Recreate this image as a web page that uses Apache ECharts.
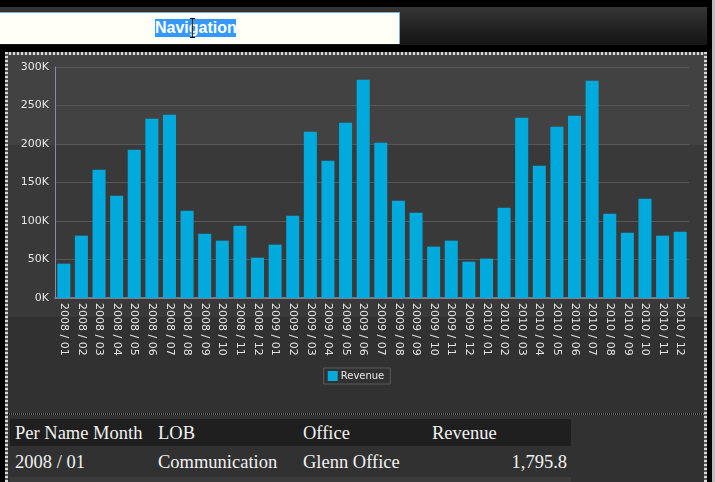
<!DOCTYPE html>
<html>
<head>
<meta charset="utf-8">
<script src="https://cdn.jsdelivr.net/npm/echarts/dist/echarts.min.js"></script>
<style>
  html, body { margin:0; padding:0; }
  body { width:715px; height:482px; background:#000; position:relative; overflow:hidden; }
  .abs { position:absolute; }
  #strip { left:0; top:7px; width:707px; height:38px; background:linear-gradient(to bottom,#353535 0,#2c2c2c 30%,#202020 60%,#151515 100%); }
  #nav { left:0; top:12px; width:399px; height:31px; background:#fffff5; border-top:1px solid #7ab0d8; border-right:1px solid #7ab0d8; }
  #navtext { left:155px; top:19px; width:81px; height:18px; background:#3399ff; color:#fff; font:bold 16px "Liberation Sans", Arial, sans-serif; line-height:18px; text-align:center; }
  #ibeam { left:190px; top:18px; width:5px; height:20px; }
  #panelbg { left:8px; top:54px; width:696px; height:428px;
    background:linear-gradient(to bottom,#424242 0,#424242 91px,#393939 91px,#393939 263px,#313131 263px,#313131 100%); }
  .dotH { height:3px; background:repeating-linear-gradient(90deg,#d8d8d8 0 2px,#5a5a5a 2px 4px); }
  .dotV { width:3px; background:repeating-linear-gradient(180deg,#d8d8d8 0 2px,#5a5a5a 2px 4px); }
  #sep { left:8px; top:413px; width:696px; height:2px; background:repeating-linear-gradient(90deg,#0c0c0c 0 1px,#6a6a6a 1px 2px); }
  #below { left:8px; top:415px; width:696px; height:67px; background:#313131; }
  #thead { left:10px; top:419px; width:561px; height:27px; background:#1f1f1f; }
  #lastrow { left:10px; top:477px; width:561px; height:5px; background:#3b3b3b; }
  .cell { font-family:"Liberation Serif","Times New Roman",serif; font-size:18.5px; color:#f2f2f2; white-space:nowrap; line-height:20px; }
  #chart { left:8px; top:54px; width:696px; height:359px; }
  #rgrey { left:712px; top:0; width:3px; height:482px; background:#bdbdbd; }
</style>
</head>
<body>
<div id="strip" class="abs"></div>
<div id="nav" class="abs"></div>
<div id="navtext" class="abs">Navigation</div>
<svg id="ibeam" class="abs" viewBox="0 0 5 20">
  <path d="M0 0.5H5M2.5 0.5V19.5M0 19.5H5" stroke="#000" stroke-width="1" fill="none"/>
  <path d="M2 2V18" stroke="#b07020" stroke-width="0.8"/>
</svg>
<div id="panelbg" class="abs"></div>
<div class="abs dotH" style="left:5px;top:52px;width:702px;"></div>
<div class="abs dotV" style="left:5px;top:52px;height:430px;"></div>
<div class="abs dotV" style="left:704px;top:52px;height:430px;"></div>
<div id="rgrey" class="abs"></div>
<div id="below" class="abs"></div>
<div id="sep" class="abs"></div>
<div id="thead" class="abs"></div>
<div id="lastrow" class="abs"></div>
<div id="chart" class="abs"></div>
<div id="table"></div>
<script>
const categories = [
  '2008 / 01','2008 / 02','2008 / 03','2008 / 04','2008 / 05','2008 / 06',
  '2008 / 07','2008 / 08','2008 / 09','2008 / 10','2008 / 11','2008 / 12',
  '2009 / 01','2009 / 02','2009 / 03','2009 / 04','2009 / 05','2009 / 06',
  '2009 / 07','2009 / 08','2009 / 09','2009 / 10','2009 / 11','2009 / 12',
  '2010 / 01','2010 / 02','2010 / 03','2010 / 04','2010 / 05','2010 / 06',
  '2010 / 07','2010 / 08','2010 / 09','2010 / 10','2010 / 11','2010 / 12'
];
const revenue = [
  44600, 81000, 166700, 132900, 192600, 232900,
  238100, 113400, 83500, 74500, 93900, 52400,
  69300, 106900, 216000, 178400, 227700, 283500,
  201700, 126400, 110800, 66700, 74500, 47200,
  51100, 117300, 234200, 171900, 222500, 236800,
  282300, 109500, 84800, 129000, 81000, 86100
];
const seriesName = 'Revenue';
const tableHeaders = ['Per Name Month', 'LOB', 'Office', 'Revenue'];
const tableRow = ['2008 / 01', 'Communication', 'Glenn Office', '1,795.8'];

// table text
const tbl = document.getElementById('table');
const colX = [15, 158, 303, 432];
tableHeaders.forEach((t, i) => {
  const s = document.createElement('div');
  s.className = 'abs cell';
  s.style.left = colX[i] + 'px';
  s.style.top = '423px';
  s.textContent = t;
  tbl.appendChild(s);
});
tableRow.forEach((t, i) => {
  const s = document.createElement('div');
  s.className = 'abs cell';
  s.style.top = '452px';
  if (i === 3) { s.style.right = (715 - 567) + 'px'; s.style.textAlign = 'right'; }
  else s.style.left = colX[i] + 'px';
  s.textContent = t;
  tbl.appendChild(s);
});

const chart = echarts.init(document.getElementById('chart'), null, { renderer: 'canvas' });
chart.setOption({
  animation: false,
  backgroundColor: 'transparent',
  textStyle: { fontFamily: 'DejaVu Sans' },
  grid: { left: 47, right: 15, top: 13, bottom: 115 },
  legend: {
    data: [seriesName],
    top: 314,
    left: 'center',
    icon: 'rect',
    itemWidth: 10,
    itemHeight: 10,
    itemGap: 5,
    borderColor: '#5a5a5a',
    borderWidth: 1,
    padding: [3, 6, 3, 4],
    textStyle: { color: '#e8e8e8', fontSize: 10, fontFamily: 'DejaVu Sans', padding: [0, 0, 0, -2] }
  },
  xAxis: {
    type: 'category',
    data: categories,
    axisLine: { lineStyle: { color: '#8a8aaa', width: 1.5 } },
    axisTick: { show: false },
    axisLabel: { rotate: -90, interval: 0, color: '#e6e6e6', fontSize: 11, margin: 5, fontFamily: 'DejaVu Sans' }
  },
  yAxis: {
    type: 'value',
    min: 0,
    max: 300000,
    interval: 50000,
    axisLine: { show: true, lineStyle: { color: '#8a8aaa' } },
    axisTick: { show: false },
    splitLine: { lineStyle: { color: '#585858' } },
    axisLabel: { formatter: v => (v / 1000) + 'K', color: '#e6e6e6', fontSize: 11, margin: 6, fontFamily: 'DejaVu Sans' }
  },
  series: [{
    name: seriesName,
    type: 'bar',
    data: revenue,
    barCategoryGap: '26%',
    itemStyle: { color: '#00aadd' }
  }]
});
</script>
</body>
</html>
